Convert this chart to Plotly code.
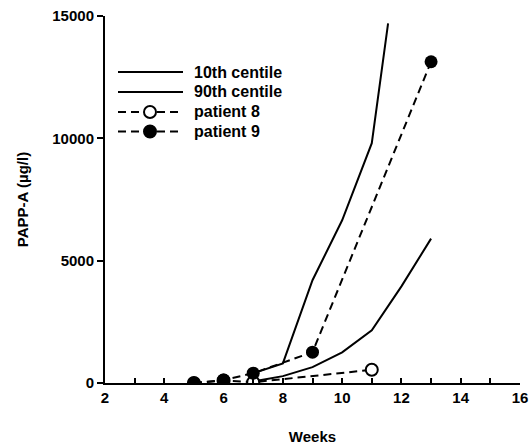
import plotly.graph_objects as go

# Gestational age (weeks) and PAPP-A concentrations (ug/l)
weeks_p10 = [7, 8, 9, 10, 11, 12, 13]
papp_p10 = [60, 280, 650, 1250, 2150, 3950, 5900]

weeks_p90 = [7, 8, 9, 10, 11, 11.55]
papp_p90 = [400, 800, 4200, 6650, 9800, 14700]

weeks_pt8 = [5, 6, 7, 11]
papp_pt8 = [0, 100, 30, 540]

weeks_pt9 = [5, 6, 7, 9, 13]
papp_pt9 = [0, 120, 400, 1260, 13130]

x_ticks = [2, 4, 6, 8, 10, 12, 14, 16]
y_ticks = [0, 5000, 10000, 15000]

legend_names = ["10th centile", "90th centile", "patient 8", "patient 9"]

FONT = "Liberation Sans, Arial, sans-serif"
DASH = "8px,5px"

# Figure geometry (pixels)
WIDTH, HEIGHT = 529, 445
M_L, M_R, M_T, M_B = 105, 9, 16, 62
PLOT_W = WIDTH - M_L - M_R
PLOT_H = HEIGHT - M_T - M_B


def px_x(px):
    return (px - M_L) / PLOT_W


def px_y(py):
    return (HEIGHT - M_B - py) / PLOT_H


fig = go.Figure()
fig.add_trace(go.Scatter(x=weeks_p10, y=papp_p10, mode="lines", name=legend_names[0],
                         line=dict(color="black", width=2)))
fig.add_trace(go.Scatter(x=weeks_p90, y=papp_p90, mode="lines", name=legend_names[1],
                         line=dict(color="black", width=2)))
fig.add_trace(go.Scatter(x=weeks_pt8, y=papp_pt8, mode="lines+markers", name=legend_names[2],
                         line=dict(color="black", width=2, dash=DASH),
                         marker=dict(symbol="circle", size=12, color="white",
                                     line=dict(color="black", width=2))))
fig.add_trace(go.Scatter(x=weeks_pt9, y=papp_pt9, mode="lines+markers", name=legend_names[3],
                         line=dict(color="black", width=2, dash=DASH),
                         marker=dict(symbol="circle", size=13, color="black",
                                     line=dict(color="black", width=0))))

# Hand-laid key: line sample, optional marker, label
key_x0, key_x1, key_mid, key_text = 118, 183, 150, 192
key_rows = [72, 92, 112, 131.5]
key_dash = ["solid", "solid", DASH, DASH]
key_marker = [None, None, "white", "black"]

shapes = []
annotations = []
for name, row, dash, fill in zip(legend_names, key_rows, key_dash, key_marker):
    shapes.append(dict(type="line", xref="paper", yref="paper",
                       x0=px_x(key_x0), x1=px_x(key_x1), y0=px_y(row), y1=px_y(row),
                       line=dict(color="black", width=2, dash=dash)))
    if fill is not None:
        r = 6
        shapes.append(dict(type="circle", xref="paper", yref="paper",
                           xsizemode="pixel", ysizemode="pixel",
                           xanchor=px_x(key_mid), yanchor=px_y(row),
                           x0=-r, x1=r, y0=-r, y1=r,
                           fillcolor=fill, line=dict(color="black", width=2)))
    annotations.append(dict(xref="paper", yref="paper", x=px_x(key_text), y=px_y(row),
                            xanchor="left", yanchor="middle", showarrow=False,
                            text=name,
                            font=dict(family=FONT, size=16, color="black", weight="bold")))

fig.update_layout(
    width=WIDTH, height=HEIGHT,
    margin=dict(l=M_L, r=M_R, t=M_T, b=M_B),
    paper_bgcolor="white", plot_bgcolor="white",
    font=dict(family=FONT, size=15, color="black", weight="bold"),
    showlegend=False,
    shapes=shapes,
    annotations=annotations,
    xaxis=dict(range=[2, 16], tickvals=x_ticks, ticks="inside", ticklen=5,
               tickwidth=2, tickcolor="black", ticklabeloverflow="allow",
               automargin=False,
               minor=dict(dtick=1, tick0=2, ticks="inside", ticklen=5,
                          tickwidth=2, tickcolor="black", showgrid=False),
               showline=True, linecolor="black", linewidth=2,
               showgrid=False, zeroline=False,
               title=dict(text="Weeks", standoff=27,
                          font=dict(family=FONT, size=15, weight="bold"))),
    yaxis=dict(range=[0, 15000], tickvals=y_ticks, tickformat="d",
               ticks="outside", ticklen=6, tickwidth=2, tickcolor="black",
               automargin=False,
               showline=True, linecolor="black", linewidth=2,
               showgrid=False, zeroline=False,
               title=dict(text="PAPP-A (\u00b5g/l)", standoff=20,
                          font=dict(family=FONT, size=15, weight="bold"))),
)

fig.write_html("out.html")
